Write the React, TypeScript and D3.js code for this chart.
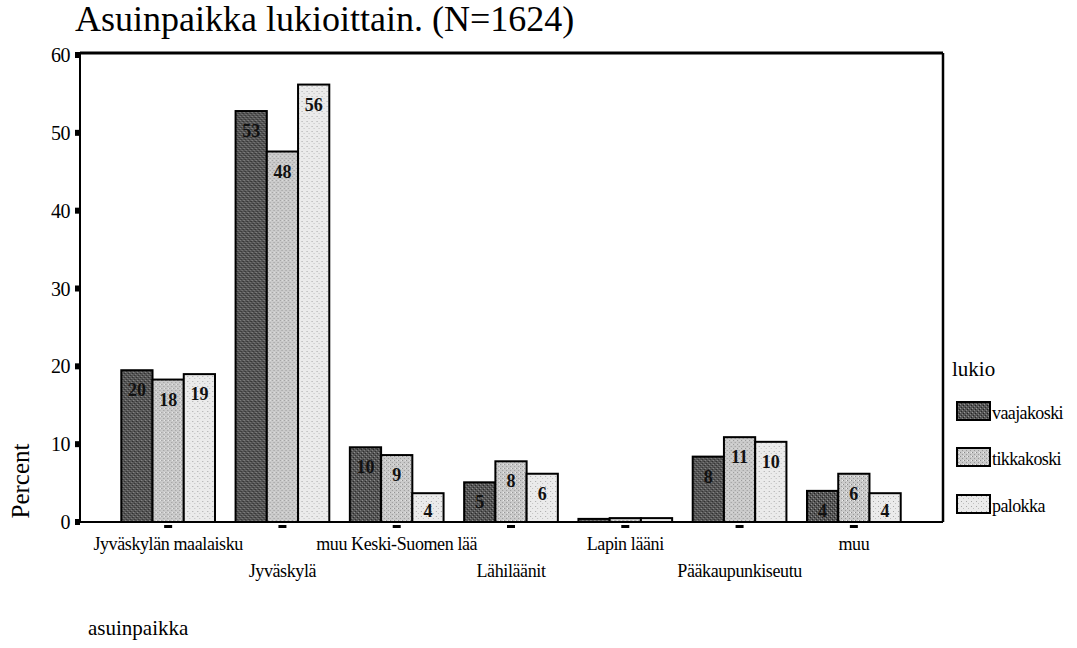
import React from "react";
import * as d3 from "d3";

const categories = [
  "Jyväskylän maalaisku",
  "Jyväskylä",
  "muu Keski-Suomen lää",
  "Lähiläänit",
  "Lapin lääni",
  "Pääkaupunkiseutu",
  "muu",
];
const seriesNames = ["vaajakoski", "tikkakoski", "palokka"];
const vaajakoski = [19.5, 52.8, 9.6, 5.1, 0.4, 8.4, 4.0];
const tikkakoski = [18.3, 47.6, 8.6, 7.8, 0.5, 10.9, 6.2];
const palokka = [19.0, 56.2, 3.7, 6.2, 0.5, 10.3, 3.7];
const yTicks = [0, 10, 20, 30, 40, 50, 60];

const seriesValues = [vaajakoski, tikkakoski, palokka];
const FONT = "'Liberation Serif', 'Times New Roman', serif";

export default function App() {
  const W = 1077;
  const H = 648;
  const left = 80;
  const right = 943;
  const top = 53;
  const bottom = 522;

  const y = d3.scaleLinear().domain([0, 60]).range([bottom, 55]);
  const x = d3
    .scaleBand<string>()
    .domain(categories)
    .range([111, 911])
    .paddingInner(0.18)
    .paddingOuter(0.09);
  const xi = d3
    .scaleBand<string>()
    .domain(seriesNames)
    .range([0, x.bandwidth()])
    .padding(0);

  const fills = ["url(#pDark)", "url(#pMid)", "url(#pLight)"];

  return (
    <svg
      width={W}
      height={H}
      style={{ position: "absolute", left: 0, top: 0, background: "#fff" }}
      fontFamily={FONT}
    >
      <defs>
        <pattern id="pDark" width="4" height="4" patternUnits="userSpaceOnUse">
          <rect width="4" height="4" fill="#555" />
          <rect x="0" y="0" width="1" height="1" fill="#959595" />
          <rect x="2" y="2" width="1" height="1" fill="#858585" />
          <rect x="1" y="3" width="1" height="1" fill="#2a2a2a" />
          <rect x="3" y="1" width="1" height="1" fill="#222" />
        </pattern>
        <pattern id="pMid" width="4" height="4" patternUnits="userSpaceOnUse">
          <rect width="4" height="4" fill="#cacaca" />
          <rect x="0" y="0" width="1" height="1" fill="#8a8a8a" />
          <rect x="2" y="2" width="1" height="1" fill="#9a9a9a" />
          <rect x="3" y="0" width="1" height="1" fill="#f0f0f0" />
        </pattern>
        <pattern id="pLight" width="5" height="5" patternUnits="userSpaceOnUse">
          <rect width="5" height="5" fill="#ebebeb" />
          <rect x="1" y="1" width="1" height="1" fill="#a8a8a8" />
          <rect x="3" y="3" width="1" height="1" fill="#c0c0c0" />
        </pattern>
      </defs>

      <text x={75} y={31} fontSize={36} fill="#000">
        Asuinpaikka lukioittain. (N=1624)
      </text>

      {/* bars */}
      {categories.map((c, ci) => (
        <g key={c} transform={`translate(${x(c)},0)`}>
          {seriesNames.map((s, si) => {
            const v = seriesValues[si][ci];
            const bx = xi(s) as number;
            const by = y(v);
            return (
              <g key={s}>
                <rect
                  x={bx}
                  y={by}
                  width={xi.bandwidth()}
                  height={bottom - by}
                  fill={fills[si]}
                  stroke="#000"
                  strokeWidth={2}
                />
                {v >= 1 && (
                  <text
                    x={bx + xi.bandwidth() / 2}
                    y={Math.min(by + 26, bottom - 5)}
                    textAnchor="middle"
                    fontSize={18}
                    fontWeight="bold"
                    fill="#111"
                  >
                    {Math.round(v)}
                  </text>
                )}
              </g>
            );
          })}
        </g>
      ))}

      {/* frame */}
      <line x1={left} x2={right} y1={top} y2={top} stroke="#000" strokeWidth={3} />
      <line x1={right} x2={right} y1={top} y2={bottom} stroke="#000" strokeWidth={2.5} />
      <line x1={left} x2={left} y1={top} y2={bottom} stroke="#000" strokeWidth={2} />
      <line x1={left} x2={right} y1={bottom} y2={bottom} stroke="#000" strokeWidth={2} />

      {/* y axis */}
      {yTicks.map((t) => (
        <g key={t}>
          <rect x={75} y={y(t) - 3} width={5} height={6} fill="#000" />
          <text
            x={70}
            y={y(t)}
            dy="0.35em"
            textAnchor="end"
            fontSize={20}
            letterSpacing={-0.5}
            fill="#000"
          >
            {t}
          </text>
        </g>
      ))}
      <text
        transform={`translate(29,${481}) rotate(-90)`}
        textAnchor="middle"
        fontSize={25}
        fill="#000"
      >
        Percent
      </text>

      {/* x axis */}
      {categories.map((c, i) => {
        const cx = (x(c) as number) + x.bandwidth() / 2;
        return (
          <g key={c}>
            <rect x={cx - 4} y={525} width={8} height={3} fill="#000" />
            <text
              x={cx}
              y={i % 2 === 0 ? 550 : 577}
              textAnchor="middle"
              fontSize={18}
              letterSpacing={-0.4}
              fill="#000"
            >
              {c}
            </text>
          </g>
        );
      })}
      <text x={88} y={635} fontSize={21} fill="#000">
        asuinpaikka
      </text>

      {/* legend */}
      <text x={952} y={376} fontSize={21} fill="#000">
        lukio
      </text>
      {seriesNames.map((s, i) => {
        const ly = [402, 448, 495][i];
        return (
          <g key={s}>
            <rect
              x={957}
              y={ly}
              width={33}
              height={18}
              fill={fills[i]}
              stroke="#000"
              strokeWidth={2}
            />
            <text x={992} y={ly + 17} fontSize={18} letterSpacing={-0.6} fill="#000">
              {s}
            </text>
          </g>
        );
      })}
    </svg>
  );
}
